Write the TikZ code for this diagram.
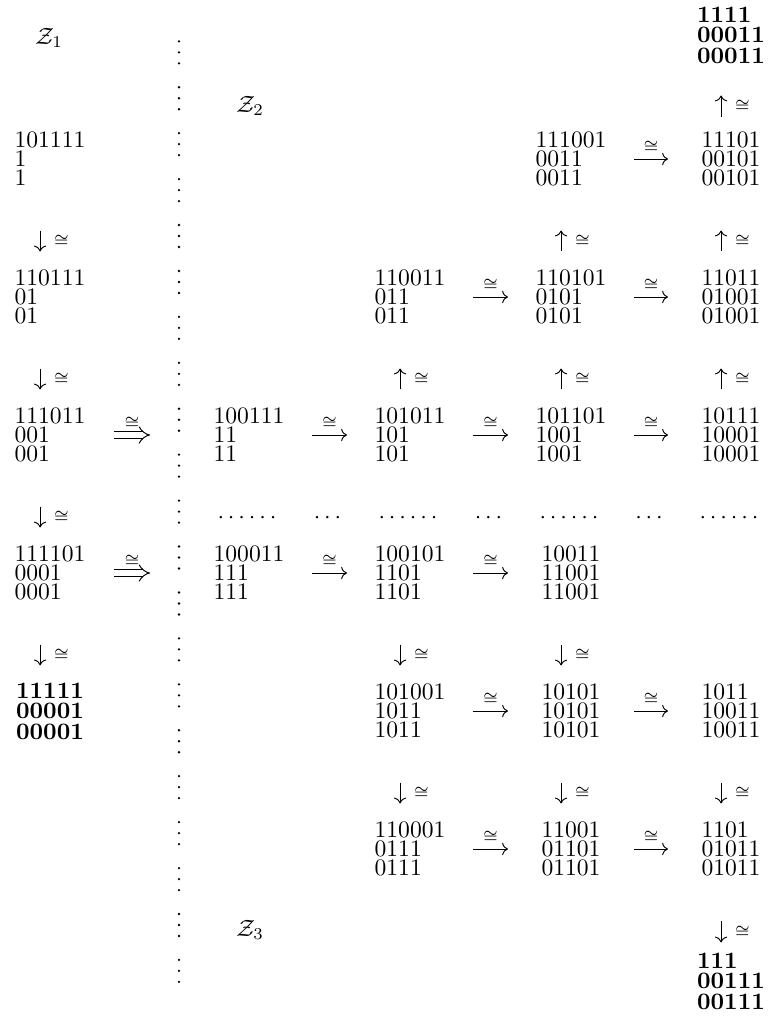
\documentclass[tikz,border=0pt]{standalone}
\usepackage{amsmath,amssymb}
\usetikzlibrary{arrows.meta}
\newcommand{\iso}{$\scriptstyle\cong$}
\tikzset{
  blk/.style={inner sep=0pt, minimum width=30pt, minimum height=24pt, align=left, font=\fontsize{10}{8.1}\selectfont},
  bblk/.style={blk, font=\fontsize{10}{8.7}\selectfont\bfseries},
  iso/.style={inner sep=0pt},
  harr/.style={-{Computer Modern Rightarrow}, shorten <=11.5pt, shorten >=11.5pt},
  darr/.style={double, double distance=2.2pt, -{Implies}, shorten <=11.9pt, shorten >=26.7pt},
  dn/.style={-{Computer Modern Rightarrow}, shorten <=18.1pt, shorten >=7.1pt},
  up/.style={-{Computer Modern Rightarrow}, shorten <=7.1pt, shorten >=18.1pt},
}
\begin{document}
\begin{tikzpicture}[x=0.4237pt, y=-0.4237pt]
  \useasboundingbox (0,0) rectangle (769,1016);
  \node (z1) at (49,38) {$\mathcal{Z}_1$};
  \node (z2) at (250,106) {$\mathcal{Z}_2$};
  \node (z3) at (250,930) {$\mathcal{Z}_3$};
  \node[blk] (l1) at (50,159) {101111\\1\\1};
  \node[blk] (l2) at (50,297) {110111\\01\\01};
  \node[blk] (l3) at (50,435) {111011\\001\\001};
  \node[blk] (l4) at (50,573) {111101\\0001\\0001};
  \node[bblk] (l5) at (50,711) {11111\\00001\\00001};
  \node[bblk] (r0c5) at (731,35) {1111\\00011\\00011};
  \node[blk] (r1c4) at (571,159) {111001\\0011\\0011};
  \node[blk] (r1c5) at (731,159) {11101\\00101\\00101};
  \node[blk] (r2c3) at (410,297) {110011\\011\\011};
  \node[blk] (r2c4) at (571,297) {110101\\0101\\0101};
  \node[blk] (r2c5) at (731,297) {11011\\01001\\01001};
  \node[blk] (r3c2) at (249,435) {100111\\11\\11};
  \node[blk] (r3c3) at (410,435) {101011\\101\\101};
  \node[blk] (r3c4) at (571,435) {101101\\1001\\1001};
  \node[blk] (r3c5) at (731,435) {10111\\10001\\10001};
  \node[blk] (r4c2) at (249,573) {100011\\111\\111};
  \node[blk] (r4c3) at (410,573) {100101\\1101\\1101};
  \node[blk] (r4c4) at (571,573) {10011\\11001\\11001};
  \node[blk] (r5c3) at (410,711) {101001\\1011\\1011};
  \node[blk] (r5c4) at (571,711) {10101\\10101\\10101};
  \node[blk] (r5c5) at (731,711) {1011\\10011\\10011};
  \node[blk] (r6c3) at (410,849) {110001\\0111\\0111};
  \node[blk] (r6c4) at (571,849) {11001\\01101\\01101};
  \node[blk] (r6c5) at (731,849) {1101\\01011\\01011};
  \node[bblk] (r7c5) at (731,981) {111\\00111\\00111};
  \foreach \x [count=\i] in {249,410,571,731}
    \node (hd\i) at (\x,518) {$\cdots\cdots$};
  \foreach \x [count=\i] in {329.5,490.5,651}
    \node (hs\i) at (\x,518) {$\cdots$};
  \foreach \k in {0,...,20}
    \foreach \d in {-11,0,11}
      \fill (179,52.3+45.93*\k+\d) circle (0.55pt);
  \foreach \a/\b in {l1/l2,l2/l3,l3/l4,l4/l5,r4c3/r5c3,r5c3/r6c3,r4c4/r5c4,r5c4/r6c4,r5c5/r6c5}
    \draw[dn] ([xshift=-4.2pt]\a.south) -- node[pos=0.66, right=5.7pt, iso] {\iso} ([xshift=-4.2pt]\b.north);
  \foreach \a/\b in {r2c4/r1c4,r3c4/r2c4,r2c5/r1c5,r3c5/r2c5,r3c3/r2c3}
    \draw[up] ([xshift=-4.2pt]\a.north) -- node[pos=0.34, right=5.7pt, iso] {\iso} ([xshift=-4.2pt]\b.south);
  \draw[up, shorten <=5.8pt, shorten >=13.4pt] ([xshift=-4.2pt]r1c5.north) -- node[pos=0.366, right=5.7pt, iso] {\iso} ([xshift=-4.2pt]r0c5.south);
  \draw[dn, shorten <=18.5pt, shorten >=4.1pt] ([xshift=-4.2pt]r6c5.south) -- node[pos=0.725, right=5.7pt, iso] {\iso} ([xshift=-4.2pt]r7c5.north);
  \foreach \a/\b in {r1c4/r1c5,r2c3/r2c4,r2c4/r2c5,r3c2/r3c3,r3c3/r3c4,r3c4/r3c5,r4c2/r4c3,r4c3/r4c4,r5c3/r5c4,r5c4/r5c5,r6c3/r6c4,r6c4/r6c5}
    \draw[harr] (\a) -- node[yshift=5.1pt, iso] {\iso} (\b);
  \draw[darr] (l3) -- node[pos=0.363, yshift=5.1pt, iso] {\iso} (r3c2);
  \draw[darr] (l4) -- node[pos=0.363, yshift=5.1pt, iso] {\iso} (r4c2);
\end{tikzpicture}
\end{document}
